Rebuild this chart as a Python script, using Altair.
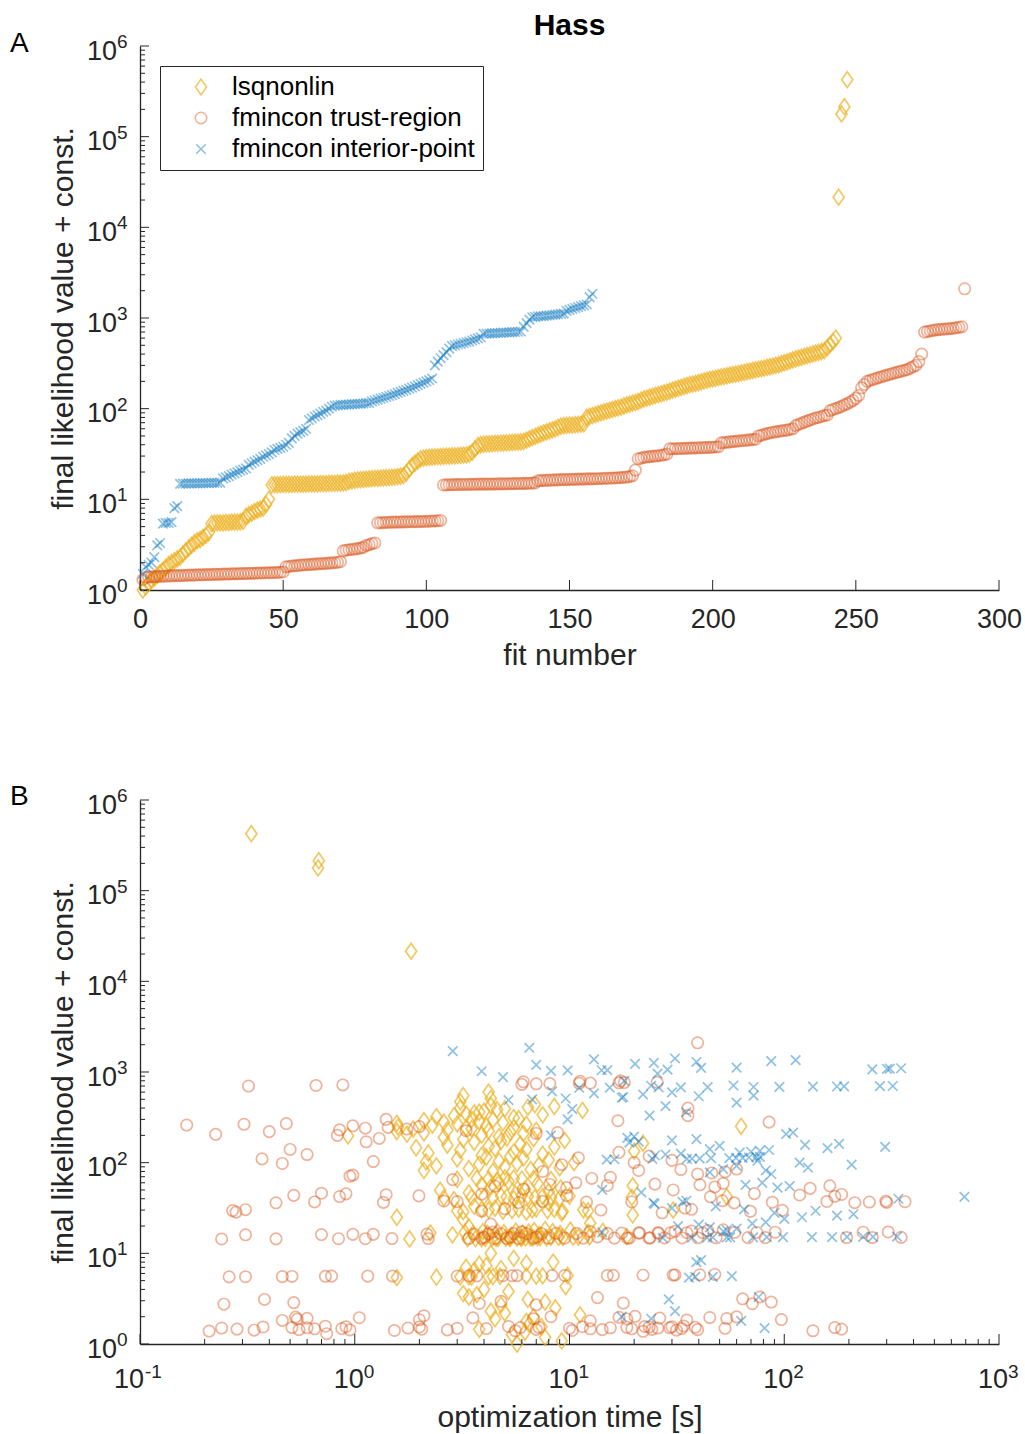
import altair as alt
import pandas as pd

FONT = "Liberation Sans"
AXIS_GRAY = "#262626"
W, H = 859, 544
LEFT, TOP, RIGHT, BOTTOM = 140, 46, 26, 90

METHODS = ["lsqnonlin", "fmincon trust-region", "fmincon interior-point"]
MARK_COLORS = ["#EDB120", "rgba(217,83,25,0.62)", "rgba(0,114,189,0.62)"]
MARK_SHAPES = [
    "M0,-1L0.7,0L0,1L-0.7,0Z",
    "M0.72,0A0.72,0.72 0 1,1 -0.72,0A0.72,0.72 0 1,1 0.72,0Z",
    "M-0.6,-0.6L0.6,0.6M-0.6,0.6L0.6,-0.6",
]
MARK_SIZE = 250

# final likelihood values (+ const.) and optimization times [s], one entry per fit
lsq_value = [
    1.00, 1.08, 1.18, 1.27, 1.35, 1.45, 1.55, 1.65, 1.78, 1.90, 2.00, 2.10,
    2.20, 2.30, 2.50, 2.70, 2.90, 3.10, 3.30, 3.50, 3.60, 3.80, 4.00, 4.30,
    5.40, 5.45, 5.50, 5.50, 5.50, 5.55, 5.55, 5.60, 5.60, 5.60, 5.65, 5.70,
    6.5, 6.8, 7.0, 7.3, 7.6, 7.8, 8.0, 8.8, 10.0,
    14.4, 14.5, 14.5, 14.5, 14.6, 14.6, 14.6, 14.6, 14.7, 14.7, 14.7, 14.7, 14.7,
    14.8, 14.8, 14.8, 14.8, 14.9, 14.9, 14.9, 15.0, 15.0, 15.0, 15.1, 15.1, 15.2, 15.3,
    15.8, 16.0, 16.2, 16.4, 16.5, 16.6, 16.7, 16.8, 16.9, 17.0,
    17.0, 17.1, 17.2, 17.3, 17.4, 17.5, 17.6, 17.8, 18.0, 18.3,
    19.5, 21.5, 23.5, 25.0, 26.5, 28.0,
    28.5, 28.8, 29.0, 29.2, 29.4, 29.5, 29.6, 29.8, 29.9, 30.0, 30.1, 30.2,
    30.4, 30.6, 30.8, 31.0, 31.5,
    33, 36, 39,
    40.0, 40.5, 40.8, 41.0, 41.2, 41.4, 41.5, 41.6, 41.8, 42.0, 42.2, 42.4,
    42.6, 42.8, 43.0, 43.5,
    45, 46.5, 48, 49.5, 51, 52.5, 54, 55.5, 57, 58.5, 60, 62,
    64, 65, 65.5, 66, 66, 66.5, 67, 67.5, 68,
    80, 82, 84, 86, 88, 90, 92, 94, 96, 98, 100, 102, 104, 107, 110, 112, 115, 117,
    120, 124, 128, 131, 134, 137, 140, 143, 146, 149, 152, 156, 160, 164, 168,
    172, 176, 180, 184, 187,
    190, 194, 198, 202, 206, 210, 213, 216, 220, 224, 227, 230, 234, 237,
    240, 244, 248, 252, 256, 260, 264, 268, 272, 276, 280, 285, 290, 295, 300,
    305, 313, 321, 329, 337, 345, 353, 361, 369, 377, 385, 393, 401, 409, 417, 427, 437,
    470, 510, 550, 600,
    21500, 178000, 214000, 425000,
]
lsq_time = [
    5.7, 9.2, 7.7, 5.4, 6.2, 3.8, 7.4, 6.5, 6.3, 4.5, 6.8, 11.2,
    5.0, 4.3, 8.6, 4.8, 7.7, 6.4, 3.4, 3.7, 3.2, 5.2, 4.0, 9.6,
    1.57, 2.4, 3.1, 3.4, 3.5, 4.2, 4.4, 4.75, 6.3, 7.0, 7.5, 9.8,
    3.6, 4.8, 3.3, 4.1, 3.8, 6.3, 8.4, 5.5, 4.3,
    1.8, 3.35, 3.65, 3.9, 4.05, 4.35, 4.55, 4.65, 5.05, 5.25, 5.3, 5.7, 5.95,
    6.0, 6.25, 6.6, 6.75, 7.1, 7.3, 7.8, 8.2, 8.9, 9.3, 10.4, 11.0, 12.4, 18.5,
    5.35, 2.85, 7.25, 3.55, 9.05, 4.15, 6.05, 2.25, 4.95, 12.2,
    3.25, 6.45, 4.62, 8.35, 3.95, 14.3, 5.62, 6.85, 10.1, 7.7,
    3.4, 12.5, 3.2, 1.57, 19.7, 9.2,
    6.3, 3.2, 9.3, 4.9, 12.2, 3.0, 7.9, 5.4, 30.4, 4.2, 6.7, 11.6,
    3.9, 8.5, 5.8, 7.0, 4.5,
    3.6, 8.0, 2.9,
    5.5, 9.0, 2.6, 6.9, 4.4, 19.5, 3.5, 8.2, 5.1, 54, 4.0, 7.5,
    6.4, 10.0, 4.8, 6.0,
    5.6, 3.4, 8.0, 2.5, 6.2, 9.1, 4.3, 19.7, 3.9, 7.1, 4.7, 5.2,
    4.6, 8.2, 3.0, 6.0, 4.2, 6.8, 3.7, 5.5, 5.0,
    4.4, 2.1, 6.6, 3.4, 9.0, 5.0, 2.4, 7.2, 3.8, 5.7, 10.5, 2.15, 4.7, 8.0, 3.0, 6.1, 4.1, 5.3,
    3.9, 7.5, 2.2, 5.5, 20, 3.1, 6.3, 4.5, 1.93, 8.5, 4.2, 2.7, 5.9, 22, 3.6,
    4.8, 9.5, 3.2, 6.8, 5.1,
    2.6, 4.7, 0.93, 3.9, 1.75, 6.1, 2.1, 5.3, 1.57, 4.2, 7.0, 2.7, 1.87, 3.5,
    3.3, 5.5, 1.59, 63, 4.1, 2.3, 6.3, 3.0, 1.57, 4.9, 2.6, 3.8, 2.1, 4.4, 3.5,
    5.8, 5.5, 2.4, 2.9, 7.5, 3.3, 3.6, 3.8, 4.0, 11.5, 4.6, 5.0, 3.1, 6.4, 8.5, 4.3, 6.9,
    3.1, 4.3, 3.2, 4.2,
    1.83, 0.675, 0.68, 0.33,
]

tr_value = [
    1.30, 1.38, 1.39, 1.40, 1.40, 1.41, 1.41, 1.42, 1.42, 1.43,
    1.43, 1.44, 1.44, 1.44, 1.45, 1.45, 1.46, 1.46, 1.46, 1.47,
    1.47, 1.47, 1.48, 1.48, 1.48, 1.49, 1.49, 1.49, 1.50, 1.50,
    1.50, 1.51, 1.51, 1.51, 1.52, 1.52, 1.52, 1.53, 1.53, 1.53,
    1.54, 1.54, 1.54, 1.55, 1.55, 1.55, 1.56, 1.56, 1.57, 1.58,
    1.80, 1.82, 1.84, 1.85, 1.86, 1.88, 1.89, 1.90, 1.91, 1.92,
    1.93, 1.94, 1.95, 1.96, 1.97, 1.98, 1.99, 2.00, 2.02, 2.05,
    2.70, 2.75, 2.78, 2.80, 2.83, 2.86, 2.90, 2.95, 3.10, 3.15, 3.25, 3.30,
    5.50, 5.52, 5.54, 5.56, 5.58, 5.60, 5.60, 5.62, 5.62, 5.64, 5.64, 5.66,
    5.66, 5.68, 5.68, 5.70, 5.70, 5.72, 5.74, 5.76, 5.78, 5.80, 5.85,
    14.40, 14.45, 14.50, 14.50, 14.55, 14.55, 14.60, 14.60, 14.60, 14.65,
    14.65, 14.65, 14.70, 14.70, 14.70, 14.70, 14.75, 14.75, 14.75, 14.80,
    14.80, 14.80, 14.85, 14.85, 14.90, 14.90, 14.95, 14.95, 15.00, 15.00,
    15.05, 15.10, 15.20,
    16.0, 16.1, 16.2, 16.2, 16.3, 16.3, 16.4, 16.4, 16.5, 16.5,
    16.5, 16.6, 16.6, 16.6, 16.7, 16.7, 16.7, 16.8, 16.8, 16.8,
    16.9, 16.9, 17.0, 17.0, 17.1, 17.1, 17.2, 17.2, 17.3, 17.4,
    17.5, 17.6, 17.8, 18.2,
    21.0,
    28.0, 28.5, 29.0, 29.3, 29.6, 29.8, 30.0, 30.3, 30.6, 31.0, 31.5,
    36.0, 36.1, 36.2, 36.3, 36.4, 36.5, 36.6, 36.7, 36.8, 36.9, 37.0, 37.1,
    37.2, 37.3, 37.4, 37.6, 37.8, 38.0,
    42.0, 42.3, 42.6, 43.0, 43.3, 43.6, 44.0, 44.3, 44.6, 45.0, 45.3, 45.6, 46.0,
    50, 51, 52, 53, 54, 55, 55.5, 56, 57, 57.5, 58, 59, 60,
    65, 67, 69, 71, 73, 75, 77, 79, 80, 82, 84, 85,
    95, 98, 100, 103, 106, 110, 113, 118, 123, 130, 140,
    170, 185,
    200, 205, 210, 215, 220, 225, 230, 235, 240, 245, 250, 255, 260, 265, 270, 280, 290, 300,
    330, 400,
    700, 710, 720, 730, 740, 745, 750, 755, 760, 765, 770, 780, 790, 800,
    2100,
]
tr_time = [
    0.74, 22.0, 0.21, 5.6, 136, 1.53, 10.3, 0.34, 31.5, 2.7,
    0.95, 14.2, 39.5, 0.55, 7.0, 24.2, 0.283, 185, 2.05, 12.5,
    0.65, 19.5, 4.1, 33.3, 0.87, 53, 3.0, 10.0, 0.24, 25.8,
    1.77, 15.5, 0.6, 29.3, 5.9, 172, 0.51, 18.5, 7.2, 38.5,
    0.374, 23.5, 2.0, 11.5, 0.91, 30, 5.2, 22.4, 0.73, 34,
    12.5, 0.46, 35.2, 2.0, 97, 0.54, 18.5, 6.8, 54, 0.60,
    26.3, 3.55, 1.05, 45, 17.0, 0.53, 60, 8.2, 20.2, 2.1,
    7.0, 0.246, 71, 3.8, 17.8, 0.52, 87, 4.8, 0.38, 64, 13.5, 77,
    0.26, 0.31, 0.46, 0.51, 0.73, 0.78, 1.15, 1.5, 3.0, 3.4, 3.7, 4.9,
    5.4, 5.7, 8.3, 9.5, 15, 16, 22, 30.4, 31, 40.4, 47.5,
    0.24, 0.43, 0.84, 1.12, 1.49, 2.2, 3.4, 3.9, 4.5, 5.1,
    5.8, 6.8, 8.0, 9.5, 11.6, 16.2, 19, 23.5, 18.6, 23.7,
    27.7, 33.4, 39.6, 48.2, 67.8, 81.6, 195, 257, 350, 4.0,
    5.3, 7.0, 13.5,
    0.31, 0.7, 0.98, 1.22, 2.17, 3.6, 4.2, 4.8, 5.5, 6.3,
    7.4, 8.7, 10.8, 15, 17.5, 21, 26, 21.2, 25.8, 29.5,
    35.2, 41.7, 58.8, 74.5, 90.8, 233, 305, 4.4, 6.0, 12.5,
    31, 37, 44, 52,
    4.3,
    27, 0.28, 69.6, 3.9, 0.27, 98, 14, 0.31, 37, 5.0, 34.5,
    58.5, 0.43, 213, 5.8, 300, 1.36, 88, 12, 249, 0.65, 19.5, 365,
    3.0, 158, 7.5, 297, 2.6, 51.5,
    45.3, 0.85, 172, 1.99, 9.7, 0.52, 118, 1.4, 185, 3.9, 0.91, 72.6, 0.7,
    30.4, 6.1, 132, 9.7, 47.5, 4.5, 163, 15, 40.5, 8.1, 25, 52, 10.7,
    2.86, 12.7, 15.5, 0.95, 0.98, 39.5, 46, 53, 7.5, 21, 33, 60,
    9.2, 0.46, 20, 1.22, 30, 0.37, 11, 23.5, 0.6, 17, 0.5,
    1.13, 1.3,
    0.83, 0.225, 7.0, 8.8, 0.4, 3.3, 0.85, 1.75, 1.12, 1.43, 2.0, 0.98,
    0.165, 0.305, 0.48, 85, 16.8, 1.4,
    35.6, 35.6,
    0.32, 0.66, 0.88, 6.0, 7.0, 8.1, 11.1, 12.5, 17, 18, 25.6, 6.1, 11.2, 17.3,
    39.5,
]

ip_value = [
    1.5, 1.8, 1.9, 2.0, 2.3, 3.1, 3.3,
    5.4, 5.5, 5.5, 5.6,
    8.0, 8.4,
    14.8, 14.9, 14.9, 15.0, 15.0, 15.0, 15.0, 15.1, 15.1, 15.1, 15.1, 15.2, 15.2, 15.2, 15.3,
    17.0, 17.5, 18.0, 18.7, 19.3, 20.0, 20.7, 21.3, 22.0,
    24, 25, 26, 27, 28, 29.5, 30.5, 31.5, 33,
    35, 36, 37, 38, 40, 42,
    47, 50, 53, 55, 57, 60,
    75, 78, 82, 85, 88, 92, 95, 100, 105,
    108, 109, 110, 110, 111, 111, 112, 112, 113, 113, 114, 115, 116,
    120, 123, 126, 129, 132, 135, 138, 141, 145, 149, 153,
    157, 161, 166, 171, 176, 182, 188, 194, 200, 207, 215,
    300, 330, 360, 390, 420, 460,
    490, 500, 510, 520, 530, 540, 550, 565, 580, 595, 610,
    670, 672, 675, 678, 680, 683, 686, 689, 692, 695, 698, 701, 705, 710,
    800, 880, 960,
    1020, 1030, 1040, 1045, 1050, 1060, 1070, 1080, 1090, 1100, 1110, 1120,
    1200, 1230, 1260, 1290, 1320, 1350, 1380, 1410,
    1700, 1850,
]
ip_time = [
    81, 63, 24, 17.5, 31, 29, 76,
    36, 38.5, 46.5, 57,
    39, 41,
    27.2, 37.2, 43.7, 46.5, 54, 56, 71.6, 83, 98.6, 134.6, 167, 196, 233, 259, 335,
    14.2, 52, 54, 60, 45, 32, 40, 71, 82,
    100, 121, 176, 210, 90, 140, 65, 30, 48,
    24.9, 24.6, 33.6, 35, 340, 690,
    21.6, 14.2, 93, 106, 66, 79,
    87, 45, 82, 52, 129, 60, 206, 118, 75,
    14.9, 16.2, 24.3, 35.2, 37.2, 40.4, 45.6, 55.5, 59.6, 64, 68.5, 74, 77,
    25, 28, 33, 62, 70, 77, 85, 45, 159, 295, 50,
    125, 180, 19, 21, 30, 39, 18.6, 20, 8.2, 102, 110,
    9.8, 23.6, 35, 10.3, 28, 60,
    5.2, 6.7, 9.6, 17.5, 17.8, 40, 72, 22, 13, 30, 8.3,
    11.1, 15.4, 26, 33, 44, 72, 95, 136, 176, 190, 279, 320, 24, 58,
    18, 4.9, 25.7,
    3.9, 8.2, 9.8, 14.1, 15, 28.6, 257, 301, 310, 350, 41, 60,
    7, 20.2, 24.7, 39, 87, 113, 13, 31,
    2.86, 6.5,
]

# axis ticks
FIT_TICKS = [0, 50, 100, 150, 200, 250, 300]
Y_DECADES = [1, 10, 100, 1e3, 1e4, 1e5, 1e6]
Y_EXPONENTS = ["0", "1", "2", "3", "4", "5", "6"]
T_DECADES = [0.1, 1, 10, 100, 1000]
T_EXPONENTS = ["-1", "0", "1", "2", "3"]
Y_MINOR = [m * d for d in Y_DECADES[:-1] for m in range(2, 10)]
T_MINOR = [m * d for d in T_DECADES[:-1] for m in range(2, 10)]

frames = []
for name, vals, times in [
    (METHODS[0], lsq_value, lsq_time),
    (METHODS[1], tr_value, tr_time),
    (METHODS[2], ip_value, ip_time),
]:
    d = pd.DataFrame({"method": name, "value": vals, "time": times})
    d["fit"] = d["value"].rank(method="first").astype(int)
    frames.append(d)
fits = pd.concat(frames, ignore_index=True)

x_fit = alt.Scale(domain=[0, 300], nice=False, zero=False)
y_log = alt.Scale(type="log", domain=[1, 1e6], nice=False)
x_time = alt.Scale(type="log", domain=[0.1, 1000], nice=False)

axis_common = dict(
    grid=False, ticks=False, tickSize=0, domain=True, domainColor=AXIS_GRAY,
    domainWidth=1.3, titleFont=FONT, titleFontSize=30, titleFontWeight="normal",
    titleColor=AXIS_GRAY, titleAlign="center", titleBaseline="alphabetic",
)
y_axis = alt.Axis(title="final likelihood value + const.", labels=False,
                  titleX=-68, titleY=H / 2, titleAngle=270, **axis_common)
fit_axis = alt.Axis(title="fit number", values=FIT_TICKS, labels=True, labelFont=FONT,
                    labelFontSize=27, labelColor=AXIS_GRAY, labelPadding=16,
                    labelFlush=False, labelOverlap=False, labelBound=False,
                    titleX=W / 2, titleY=74, **axis_common)
time_axis = alt.Axis(title="optimization time [s]", labels=False,
                     titleX=W / 2, titleY=82, **axis_common)

legend = alt.Legend(
    orient="none", legendX=20, legendY=20, labelFont=FONT, labelFontSize=26,
    labelColor="black", labelLimit=0, labelOffset=18, symbolOffset=20, padding=8,
    rowPadding=5, symbolSize=MARK_SIZE, symbolStrokeWidth=1.6, strokeColor=AXIS_GRAY,
    fillColor="white",
)


def scatter(x_enc, show_legend):
    leg = legend if show_legend else None
    return alt.Chart(fits).mark_point(filled=False, size=MARK_SIZE, strokeWidth=1.7).encode(
        x=x_enc,
        y=alt.Y("value:Q", scale=y_log, axis=y_axis),
        color=alt.Color("method:N", title=None,
                        scale=alt.Scale(domain=METHODS, range=MARK_COLORS), legend=leg),
        shape=alt.Shape("method:N", title=None,
                        scale=alt.Scale(domain=METHODS, range=MARK_SHAPES), legend=leg),
    )


def y_ticks(vals, length):
    return alt.Chart(pd.DataFrame({"v": vals})).mark_rule(color=AXIS_GRAY, strokeWidth=1).encode(
        y=alt.Y("v:Q", scale=y_log, axis=y_axis), x=alt.value(0), x2=alt.value(length))


def x_ticks(vals, scale, axis, length):
    return alt.Chart(pd.DataFrame({"v": vals})).mark_rule(color=AXIS_GRAY, strokeWidth=1).encode(
        x=alt.X("v:Q", scale=scale, axis=axis), y=alt.value(H - length), y2=alt.value(H))


def y_labels():
    d = pd.DataFrame({"v": Y_DECADES, "e": Y_EXPONENTS})
    base = alt.Chart(d).mark_text(text="10", align="right", baseline="alphabetic", font=FONT,
                                  fontSize=27, color=AXIS_GRAY, dy=13.5).encode(
        x=alt.value(-23), y=alt.Y("v:Q", scale=y_log, axis=y_axis))
    sup = alt.Chart(d).mark_text(align="left", baseline="alphabetic", font=FONT,
                                 fontSize=19, color=AXIS_GRAY, dy=2).encode(
        x=alt.value(-23), y=alt.Y("v:Q", scale=y_log, axis=y_axis), text="e:N")
    return [base, sup]


def time_labels():
    d = pd.DataFrame({"v": T_DECADES, "e": T_EXPONENTS})
    layers = []
    for test, base_dx, sup_dx in [("datum.v >= 1", -6, 9), ("datum.v < 1", -11, 5)]:
        sub = alt.Chart(d).transform_filter(test)
        layers.append(sub.mark_text(text="10", align="center", baseline="alphabetic", font=FONT,
                                    fontSize=27, color=AXIS_GRAY, dx=base_dx, dy=44).encode(
            x=alt.X("v:Q", scale=x_time, axis=time_axis), y=alt.value(H)))
        layers.append(sub.mark_text(align="left", baseline="alphabetic", font=FONT,
                                    fontSize=19, color=AXIS_GRAY, dx=sup_dx, dy=34).encode(
            x=alt.X("v:Q", scale=x_time, axis=time_axis), y=alt.value(H), text="e:N"))
    return layers


def note(text, x, y, size, weight="normal", align="left"):
    return alt.Chart(pd.DataFrame({"t": [text]})).mark_text(
        align=align, baseline="alphabetic", font=FONT, fontSize=size, fontWeight=weight,
        color="black").encode(text="t:N", x=alt.value(x), y=alt.value(y))


def frame(y0, y1):
    # invisible box that fixes the page extent around each panel
    return alt.Chart(pd.DataFrame({"f": [0]})).mark_rect(opacity=0).encode(
        x=alt.value(-LEFT), x2=alt.value(W + RIGHT), y=alt.value(y0), y2=alt.value(y1))


panel_a = alt.layer(
    scatter(alt.X("fit:Q", scale=x_fit, axis=fit_axis), True),
    frame(-TOP, H),
    y_ticks(Y_DECADES, 9), y_ticks(Y_MINOR, 5), x_ticks(FIT_TICKS, x_fit, fit_axis, 10),
    *y_labels(),
    note("Hass", W / 2, -11, 30, weight="bold", align="center"),
    note("A", -130, 6, 28),
).properties(width=W, height=H)

panel_b = alt.layer(
    scatter(alt.X("time:Q", scale=x_time, axis=time_axis), False),
    frame(0, H + BOTTOM),
    y_ticks(Y_DECADES, 9), y_ticks(Y_MINOR, 5),
    x_ticks(T_DECADES, x_time, time_axis, 10), x_ticks(T_MINOR, x_time, time_axis, 5),
    *y_labels(), *time_labels(),
    note("B", -130, 5, 28),
).properties(width=W, height=H)

chart = alt.vconcat(panel_a, panel_b, spacing=210, bounds="flush").properties(
    padding=0,
    background="white",
).configure_view(stroke=None)

chart.save("out.html", embed_options={"renderer": "svg", "actions": False})
